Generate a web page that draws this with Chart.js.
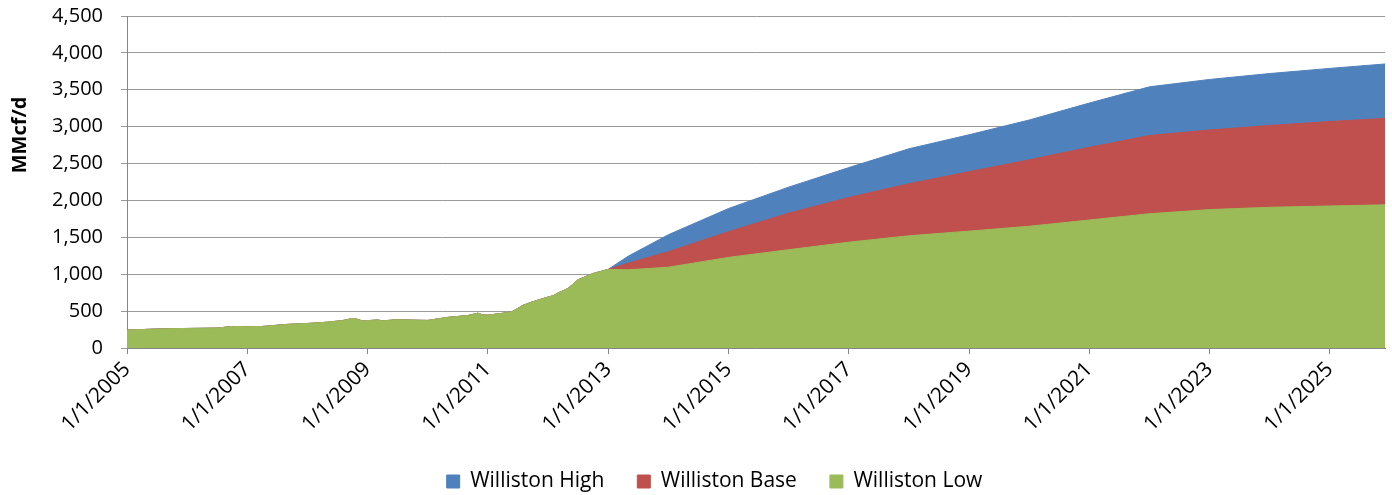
<!DOCTYPE html>
<html>
<head>
<meta charset="utf-8">
<title>Williston gas production</title>
<script src="https://cdn.jsdelivr.net/npm/chart.js@4.4.0/dist/chart.umd.min.js"></script>
<style>
  html, body { margin: 0; padding: 0; background: #fff; }
  #wrap { width: 1392px; height: 495px; position: relative; }
</style>
</head>
<body>
<div id="wrap"><canvas id="gasChart"></canvas></div>
<script>
// x values are months counted from Jan 2005
const histMonth = [0, 6, 12, 18, 21, 24, 27, 32, 37, 40, 43, 45, 46, 47, 50, 51, 54, 57, 60,
                   64, 68, 70, 71, 72, 76, 77, 79, 81, 84, 85, 86, 88, 90, 93, 96];
const histValue = [242, 258, 265, 270, 292, 288, 292, 320, 336, 350, 372, 400, 388, 366, 380, 368, 384, 378, 374,
                   415, 440, 472, 448, 445, 480, 498, 578, 628, 690, 708, 745, 808, 925, 1010, 1065];

// projections after 1/1/2013
const forecastMonth = [100, 108, 120, 132, 144, 156, 168, 180, 192, 204, 216, 228, 240, 251];
const highValues = [1245, 1535, 1890, 2180, 2445, 2700, 2890, 3090, 3320, 3540, 3640, 3720, 3790, 3850];
const baseValues = [1150, 1305, 1577, 1828, 2040, 2226, 2390, 2550, 2720, 2880, 2955, 3016, 3069, 3112];
const lowValues  = [1060, 1095, 1228, 1332, 1434, 1521, 1584, 1650, 1735, 1820, 1876, 1907, 1925, 1940];

const seriesNames = ['Williston High', 'Williston Base', 'Williston Low'];
const seriesColors = ['#4F81BD', '#C0504D', '#9BBB59'];

const yTicks = [0, 500, 1000, 1500, 2000, 2500, 3000, 3500, 4000, 4500];
const xTickStep = 24; // a label every two years
const START_YEAR = 2005;
const LAST_MONTH = 251;

function toPoints(months, values) {
  return months.map((m, i) => ({ x: m, y: values[i] }));
}

const history = toPoints(histMonth, histValue);
const seriesData = [
  history.concat(toPoints(forecastMonth, highValues)),
  history.concat(toPoints(forecastMonth, baseValues)),
  history.concat(toPoints(forecastMonth, lowValues))
];

const FONT = '"Open Sans", "Noto Sans", sans-serif';
const GRID = '#999999';
const AXIS = '#868686';

// rotated axis name drawn next to the value labels
const yTitlePlugin = {
  id: 'yTitle',
  afterDraw(chart) {
    const ctx = chart.ctx;
    ctx.save();
    ctx.translate(20, chart.chartArea.top + 119);
    ctx.rotate(-Math.PI / 2);
    ctx.font = 'bold 20px ' + FONT;
    ctx.fillStyle = '#000';
    ctx.textAlign = 'center';
    ctx.textBaseline = 'middle';
    ctx.fillText('MMcf/d', 0, 0);
    ctx.restore();
  }
};

new Chart(document.getElementById('gasChart'), {
  type: 'line',
  data: {
    datasets: seriesData.map((data, i) => ({
      label: seriesNames[i],
      data: data,
      backgroundColor: seriesColors[i],
      borderColor: seriesColors[i],
      borderWidth: 1,
      pointRadius: 0,
      tension: 0,
      fill: 'origin',
      order: seriesData.length - i   // low series painted last, on top
    }))
  },
  plugins: [yTitlePlugin],
  options: {
    responsive: true,
    maintainAspectRatio: false,
    animation: false,
    // left padding nudges the centred legend to the right; the y axis box fills the rest
    layout: { padding: { top: 16, right: 7, left: 44, bottom: 0 } },
    plugins: {
      tooltip: { enabled: false },
      legend: {
        position: 'bottom',
        maxHeight: 57,
        labels: {
          boxWidth: 13,
          boxHeight: 13,
          padding: 33,
          color: '#000',
          font: { family: FONT, size: 21 },
          sort: (a, b) => a.datasetIndex - b.datasetIndex
        }
      }
    },
    scales: {
      x: {
        type: 'linear',
        min: 0,
        max: LAST_MONTH,
        afterFit: (scale) => { scale.height = 90; },
        grid: { drawOnChartArea: false, drawTicks: true, tickLength: 6, color: AXIS },
        border: { color: AXIS },
        ticks: {
          stepSize: xTickStep,
          includeBounds: false,
          autoSkip: false,
          minRotation: 45,
          maxRotation: 45,
          padding: 3,
          color: '#000',
          font: { family: FONT, size: 21 },
          callback: (v) => '1/1/' + (START_YEAR + v / 12)
        }
      },
      y: {
        min: yTicks[0],
        max: yTicks[yTicks.length - 1],
        afterFit: (scale) => {
          scale.width = 83;
          // the wide label gap should not push the plot down
          scale.paddingTop = 12;
          scale.paddingBottom = 12;
        },
        afterBuildTicks: (scale) => { scale.ticks = yTicks.map(v => ({ value: v })); },
        grid: { color: GRID, tickLength: 6 },
        border: { color: AXIS },
        ticks: {
          padding: 18,
          color: '#000',
          font: { family: FONT, size: 20 },
          callback: (v) => v.toLocaleString('en-US')
        }
      }
    }
  }
});
</script>
</body>
</html>
